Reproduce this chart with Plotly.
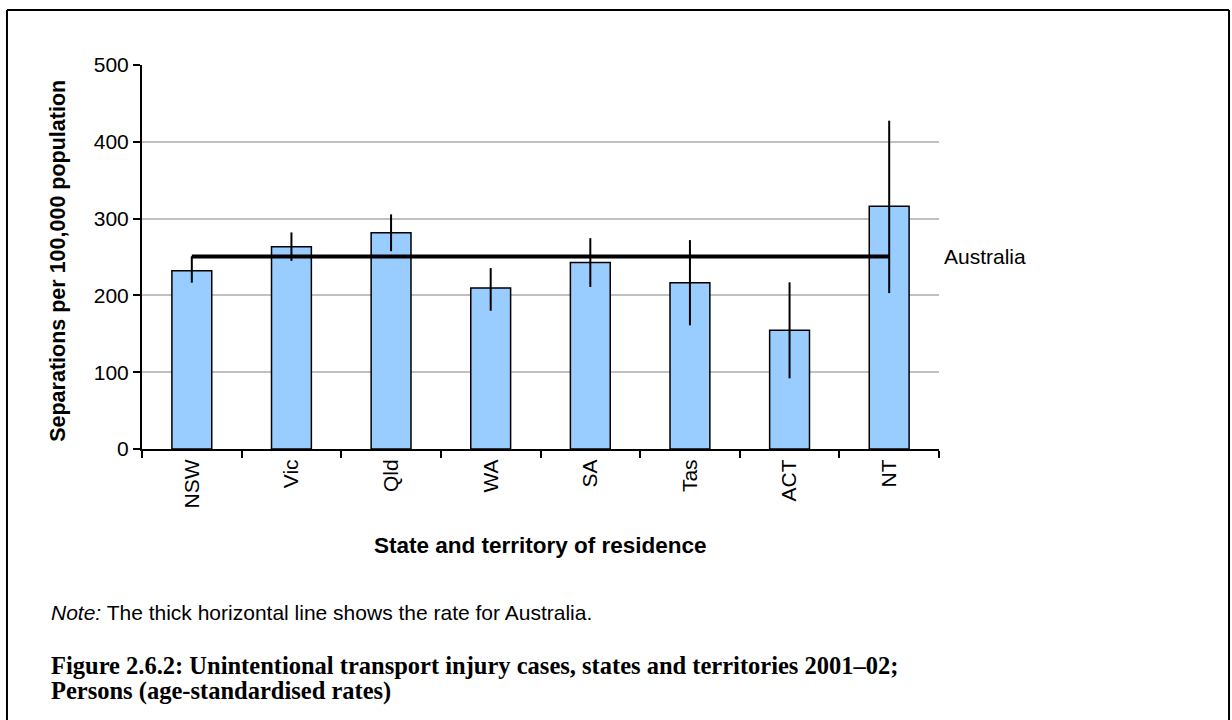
import plotly.graph_objects as go

states = ["NSW", "Vic", "Qld", "WA", "SA", "Tas", "ACT", "NT"]
rates = [232, 263.5, 281.5, 209.5, 243, 216.5, 154.5, 316]
ci_upper = [251, 282, 305.5, 235.5, 274.5, 272, 217, 427.5]
ci_lower = [216.5, 245, 257.5, 180, 211, 161, 92, 203]
australia_rate = 250.5

yticks = [0, 100, 200, 300, 400, 500]

err_plus = [u - r for u, r in zip(ci_upper, rates)]
err_minus = [r - l for l, r in zip(ci_lower, rates)]

SANS = "Liberation Sans, Arial, sans-serif"
SERIF = "Liberation Serif, Times New Roman, serif"

fig = go.Figure()
fig.add_trace(go.Bar(
    x=states, y=rates, width=0.4,
    marker=dict(color="#99CCFF", line=dict(color="black", width=1.5)),
    error_y=dict(type="data", symmetric=False, array=err_plus, arrayminus=err_minus,
                 color="black", thickness=2, width=0),
    showlegend=False, hoverinfo="x+y",
))
fig.add_trace(go.Scatter(
    x=[states[0], states[-1]], y=[australia_rate, australia_rate],
    mode="lines", line=dict(color="black", width=4), showlegend=False,
))

fig.update_layout(
    width=1232, height=720,
    margin=dict(l=142, r=293, t=65, b=271),
    paper_bgcolor="white", plot_bgcolor="white",
    font=dict(family=SANS, color="black"),
    bargap=0.6,
    xaxis=dict(
        type="category", categoryorder="array", categoryarray=states,
        tickangle=-90, tickfont=dict(size=21, family=SANS),
        showline=True, linecolor="black", linewidth=2,
        ticks="outside", ticklen=7, tickwidth=1.5, tickcolor="black",
        tickson="boundaries", showgrid=False, range=[-0.5, 7.5],
    ),
    yaxis=dict(
        range=[0, 500], tickvals=yticks, ticktext=[str(v) for v in yticks],
        tickfont=dict(size=21, family=SANS),
        showline=True, linecolor="black", linewidth=2,
        ticks="outside", ticklen=7, tickwidth=1.5, tickcolor="black",
        showgrid=True, gridcolor="#C0C0C0", gridwidth=1.5, zeroline=False,
    ),
    annotations=[
        dict(text="<b>Separations per 100,000 population</b>", textangle=-90,
             xref="paper", yref="paper", x=-0.1054, y=0.49, xanchor="center", yanchor="middle",
             showarrow=False, font=dict(size=21.5, family=SANS)),
        dict(text="<b>State and territory of residence</b>",
             xref="paper", yref="paper", x=0.5, y=-0.25, xanchor="center", yanchor="middle",
             showarrow=False, font=dict(size=22.5, family=SANS)),
        dict(text="Australia", xref="paper", yref="y", x=1.004, y=australia_rate,
             xanchor="left", yanchor="middle", showarrow=False, font=dict(size=21, family=SANS)),
        dict(text="<i>Note:</i> The thick horizontal line shows the rate for Australia.",
             xref="paper", yref="paper", x=-0.117, y=-0.427, xanchor="left", yanchor="middle",
             showarrow=False, font=dict(size=21, family=SANS)),
        dict(text="<b>Figure 2.6.2: Unintentional transport injury cases, states and territories 2001–02;</b>",
             xref="paper", yref="paper", x=-0.117, y=-0.563, xanchor="left", yanchor="middle",
             align="left", showarrow=False, font=dict(size=24.5, family=SERIF)),
        dict(text="<b>Persons (age-standardised rates)</b>",
             xref="paper", yref="paper", x=-0.117, y=-0.631, xanchor="left", yanchor="middle",
             align="left", showarrow=False, font=dict(size=24.5, family=SERIF)),
    ],
    shapes=[
        dict(type="line", xref="paper", yref="paper", x0=-0.1694, x1=1.3639, y0=1.1432, y1=1.1432,
             line=dict(color="black", width=2)),
        dict(type="line", xref="paper", yref="paper", x0=-0.1694, x1=-0.1694, y0=1.1432, y1=-0.75,
             line=dict(color="black", width=2)),
        dict(type="line", xref="paper", yref="paper", x0=1.3639, x1=1.3639, y0=1.1432, y1=-0.75,
             line=dict(color="black", width=2)),
    ],
)

fig.write_html("out.html", config={"displayModeBar": False},
               post_script="document.body.style.margin='0';document.body.style.overflow='hidden';")
